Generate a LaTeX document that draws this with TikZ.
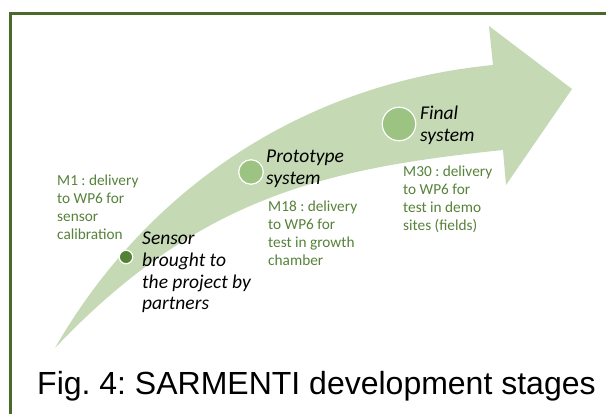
\documentclass[tikz,border=0pt]{standalone}
\usepackage{fontspec}
\newfontfamily\calibrifont{Carlito}
\newfontfamily\arialfont{Liberation Sans}
\definecolor{framegreen}{HTML}{4A6A2C}
\definecolor{arrowfill}{HTML}{C5D9B5}
\definecolor{circfill}{HTML}{9DC383}
\definecolor{darkdot}{HTML}{548235}
\definecolor{txtgreen}{HTML}{56823A}
\frenchspacing
\begin{document}
\begin{tikzpicture}[x=1pt,y=-1pt,
  smalltxt/.style={font=\calibrifont\fontsize{15.3}{18}\selectfont, text=txtgreen, align=left, inner sep=0pt, anchor=base west},
  bigtxt/.style={font=\calibrifont\itshape\fontsize{19.5}{21.7}\selectfont, text=black, align=left, inner sep=0pt, anchor=base west},
  stagedot/.style={circle, fill=circfill, draw=white, line width=1.2pt, inner sep=0pt}]
\useasboundingbox (0,0) rectangle (606,414);
\fill[white] (0,0) rectangle (606,414);
% frame
\draw[framegreen, line width=3pt, line join=miter] (10.5,414) -- (10.5,13.5) -- (606,13.5);
% arrow
\coordinate (tail) at (55,348);
\coordinate (hu) at (493,65);
\coordinate (hl) at (503,150);
\fill[arrowfill] (tail) .. controls (140,200) and (290,85) .. (hu)
  -- (489,26) -- (572,89) -- (506,185) -- (hl)
  .. controls (330,168) and (200,195) .. (tail) -- cycle;
% dots
\node[stagedot, fill=darkdot, minimum size=13.5pt] (d1) at (126,257) {};
\node[stagedot, minimum size=24.5pt] (d2) at (251,172) {};
\node[stagedot, minimum size=33.5pt] (d3) at (399,124) {};
% texts (base anchor = baseline of the last line)
\node[smalltxt] (m1) at (57,240) {M1 : delivery\\to WP6 for\\sensor\\calibration};
\node[smalltxt] (m18) at (268,266) {M18 : delivery\\to WP6 for\\test in growth\\chamber};
\node[smalltxt] (m30) at (403,231) {M30 : delivery\\to WP6 for\\test in demo\\sites (fields)};
\node[bigtxt] (s1) at (142,310) {Sensor\\brought to\\the project by\\partners};
\node[bigtxt] (s2) at (266,184.5) {Prototype\\system};
\node[bigtxt] (s3) at (420,141.5) {Final\\system};
\node[font=\arialfont\fontsize{32}{38}\selectfont, anchor=base west, inner sep=0pt] (cap) at (37,395) {Fig. 4: SARMENTI development stages};
\end{tikzpicture}
\end{document}
